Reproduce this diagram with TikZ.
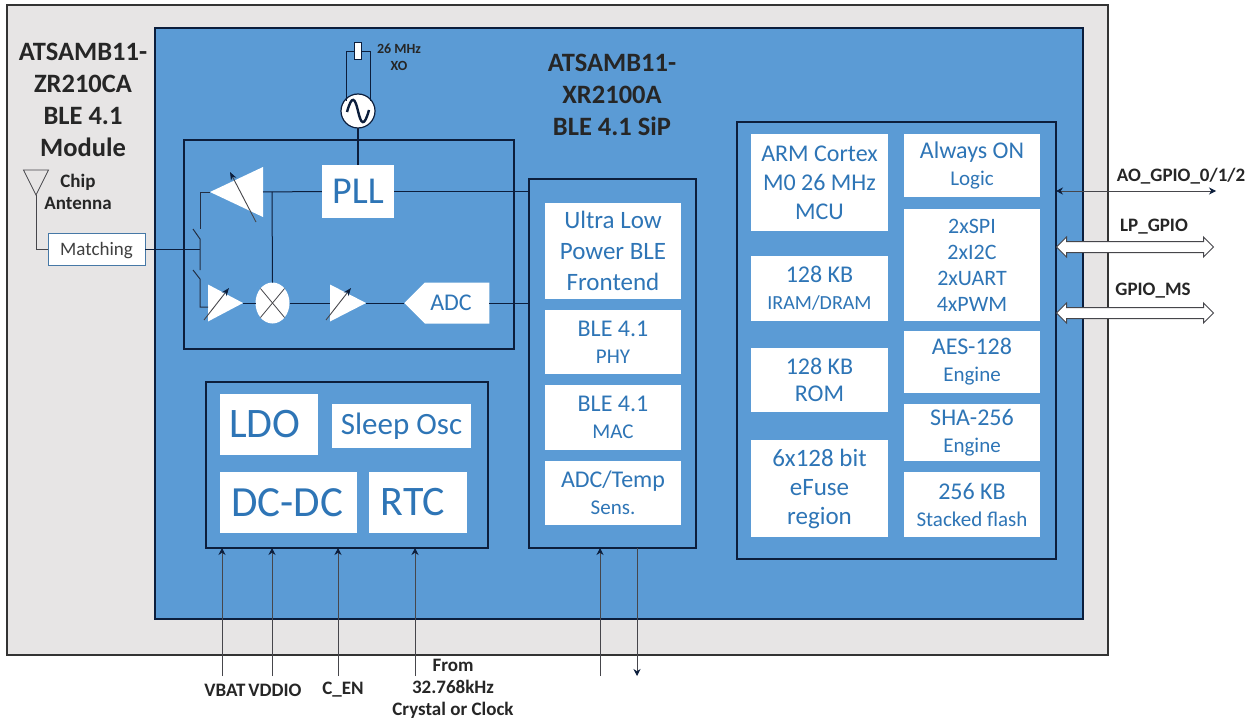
\documentclass[tikz,border=0pt]{standalone}
\usepackage{xcolor}
\usepackage{fontspec}
\setmainfont{Carlito}
\usetikzlibrary{arrows.meta, shapes.geometric, shapes.symbols, shapes.arrows}
\definecolor{samgray}{RGB}{231, 229, 229}
\definecolor{samblue}{RGB}{91, 155, 213}
\definecolor{samtext}{RGB}{46, 117, 182}
\definecolor{samdark}{RGB}{12, 30, 60}
\definecolor{samline}{RGB}{70, 70, 75}
\newcommand{\subline}[1]{{\fontsize{21}{27}\selectfont #1}}
\tikzset{
  panel/.style={draw=samdark, line width=1.4pt, fill=samblue, inner sep=0pt, outer sep=0pt},
  wbox/.style={fill=white, inner sep=0pt, align=center, text=samtext, font=\fontsize{24}{27}\selectfont},
  head/.style={align=center, inner sep=0pt, text=black!85, font=\fontsize{26.5}{32}\selectfont\bfseries},
  pinlabel/.style={align=center, inner sep=0pt, text=black!85, font=\fontsize{19}{22}\selectfont\bfseries},
  wire/.style={draw=samdark, line width=1pt},
  sigarrow/.style={draw=samline, line width=0.8pt, -{Stealth[length=7pt, width=7pt, color=samdark]}},
  amp/.style={isosceles triangle, isosceles triangle stretches=true, fill=white, inner sep=0pt, outer sep=0pt},
  tune/.style={draw=samline, line width=0.9pt, -{Stealth[length=8pt, width=6pt, color=samdark]}},
  busarrow/.style={double arrow, draw=samline, fill=white, line width=1pt, inner sep=5pt,
    minimum width=19pt, double arrow head extend=4.5pt, minimum height=157pt}
}
\begin{document}
\begin{tikzpicture}[x=1pt, y=-1pt]
  \useasboundingbox (0,0) rectangle (1257,722);

  % Module and SiP
  \node[panel, fill=samgray, draw=black!80, minimum width=1101pt, minimum height=650pt] (module) at (557.5,330) {};
  \node[panel, minimum width=928pt, minimum height=591pt] (sip) at (619,323.5) {};

  % Titles
  \node[head] (modtitle) at (83,100) {ATSAMB11-\\ZR210CA\\BLE 4.1\\Module};
  \node[head] (siptitle) at (612,94.5) {ATSAMB11-\\XR2100A\\BLE 4.1 SiP};

  % Antenna and matching
  \node[isosceles triangle, isosceles triangle stretches=true, shape border rotate=270, draw=samline, line width=0.8pt,
        fill=samgray, minimum width=25pt, minimum height=25pt, inner sep=0pt, outer sep=0pt, anchor=apex] (antenna) at (36,195) {};
  \node[pinlabel] (antlabel) at (78,192) {Chip\\Antenna};
  \node[fill=white, draw=samtext!70!gray, line width=0.8pt, inner sep=0pt, minimum width=97pt, minimum height=32pt,
        text=black!75, text height=13pt, text depth=0pt, font=\fontsize{19}{20}\selectfont] (matching) at (96.5,249) {Matching};
  \draw[draw=samline, line width=0.8pt] (antenna.apex) |- (matching.west);

  % Radio
  \node[panel, minimum width=330pt, minimum height=209pt] (radio) at (349,244.5) {};
  \node[wbox, minimum width=72pt, minimum height=53pt, font=\fontsize{38}{40}\selectfont] (pll) at (358,191.5) {PLL};
  \node[draw=samdark, line width=1.2pt, fill=white, circle, minimum size=34pt, inner sep=0pt, outer sep=0pt] (osc) at (358,111) {};
  \draw[samdark, line width=2.4pt] (347,112) .. controls (352,94) and (355,98) .. (358,111) .. controls (361,124) and (364,128) .. (369,110);
  \node[draw=samdark, line width=1.4pt, fill=white, inner sep=0pt, outer sep=0pt, minimum width=7pt, minimum height=17pt] (xtal) at (358,51) {};
  \node[pinlabel, font=\fontsize{14}{17}\selectfont\bfseries] (xtallabel) at (399,57.5) {26 MHz\\XO};
  \draw[wire, line width=0.8pt] (xtal.west) -- (346,51) -- (346,101);
  \draw[wire, line width=0.8pt] (xtal.east) -- (370,51) -- (370,101);
  \draw[wire, line width=1.4pt] (osc) -- (pll);

  \node[amp, shape border rotate=180, minimum width=50pt, minimum height=53pt, anchor=apex] (pa) at (210,192) {};
  \node[amp, minimum width=37pt, minimum height=35pt, anchor=apex] (lna) at (243,303) {};
  \node[amp, minimum width=37pt, minimum height=36pt, anchor=apex] (vga) at (366,303) {};
  \node[ellipse, fill=white, minimum width=34pt, minimum height=41pt, inner sep=0pt, outer sep=0pt] (mixer) at (272.5,303) {};
  \node[signal, signal to=west, signal pointer angle=90, fill=white, inner sep=0pt, outer sep=0pt,
        minimum width=85pt, minimum height=41pt, text=samtext, font=\fontsize{24}{24}\selectfont] (adc) at (457,303) {ADC\hspace{12pt}\null};

  \draw[samline, line width=0.8pt] (mixer.north west) -- (mixer.south east);
  \draw[samline, line width=0.8pt] (mixer.north east) -- (mixer.south west);
  \draw[tune] (256,222) -- (230,172);
  \draw[tune] (204,320) -- (229,288);
  \draw[tune] (326,320) -- (351,288);

  \coordinate (rfjoint) at (200,249);
  \draw[wire] (matching.east) -- (rfjoint);
  \draw[wire, draw=samdark!60!samline] (pa.apex) -- (200,192) -- (200,229);
  \draw[wire, draw=samdark!60!samline] (193,229) -- (200,239) -- (rfjoint) -- (200,270);
  \draw[wire, draw=samdark!60!samline] (193,270) -- (200,279) -- (200,307) -- (208,307);
  \draw[wire] (pll.west) -- (263,192);
  \draw[wire] (272,192) -- (mixer.north);
  \draw[wire] (lna.apex) -- (mixer.west);
  \draw[wire] (mixer.east) -- (330,303);
  \draw[wire] (vga.apex) -- (adc.west);

  % Power
  \node[panel, minimum width=282pt, minimum height=166pt] (power) at (347,465) {};
  \node[wbox, minimum width=98pt, minimum height=61pt, font=\fontsize{42}{40}\selectfont] (ldo) at (269,424.5) {LDO\hspace{8pt}};
  \node[wbox, minimum width=139pt, minimum height=44pt, font=\fontsize{31}{30}\selectfont] (sleeposc) at (401.5,426) {Sleep Osc};
  \node[wbox, minimum width=137pt, minimum height=61pt, font=\fontsize{43}{40}\selectfont] (dcdc) at (288.5,502.5) {DC-DC\hspace{3pt}};
  \node[wbox, minimum width=98pt, minimum height=61pt, font=\fontsize{42}{40}\selectfont] (rtc) at (418,502.5) {RTC\hspace{10pt}};

  % BLE
  \node[panel, minimum width=167pt, minimum height=369pt] (ble) at (612.5,363.5) {};
  \node[wbox, minimum width=136pt, minimum height=96pt, font=\fontsize{25}{31}\selectfont] (frontend) at (613,251) {Ultra Low\\Power BLE\\Frontend};
  \node[wbox, minimum width=136pt, minimum height=64pt] (phy) at (613,342) {BLE 4.1\\\subline{PHY}};
  \node[wbox, minimum width=136pt, minimum height=65pt] (mac) at (613,417.5) {BLE 4.1\\\subline{MAC}};
  \node[wbox, minimum width=136pt, minimum height=64pt] (adctemp) at (613,493) {ADC/Temp\\\subline{Sens.}};
  \draw[wire] (pll.east) -- (pll.east -| ble.west);
  \draw[wire] (adc.east) -- (adc.east -| ble.west);

  % MCU
  \node[panel, minimum width=319pt, minimum height=437pt] (mcu) at (896.5,340.5) {};
  \node[wbox, minimum width=137pt, minimum height=97pt, font=\fontsize{24}{29}\selectfont] (arm) at (819.5,182.5) {ARM Cortex\\M0 26 MHz\\MCU};
  \node[wbox, minimum width=137pt, minimum height=65pt] (iram) at (819.5,288.5) {128 KB\\{\fontsize{20}{27}\selectfont IRAM/DRAM}};
  \node[wbox, minimum width=137pt, minimum height=64pt] (rom) at (819.5,380) {128 KB\\ROM};
  \node[wbox, minimum width=137pt, minimum height=97pt, font=\fontsize{25}{29}\selectfont] (efuse) at (819.5,488.5) {6x128 bit\\eFuse\\region};
  \node[wbox, minimum width=136pt, minimum height=63pt] (always) at (972,165.5) {Always ON\\\subline{Logic}};
  \node[wbox, minimum width=136pt, minimum height=112pt, font=\fontsize{22}{26}\selectfont] (periph) at (972,265) {2xSPI\\2xI2C\\2xUART\\4xPWM};
  \node[wbox, minimum width=136pt, minimum height=62pt] (aes) at (972,362) {AES-128\\\subline{Engine}};
  \node[wbox, minimum width=136pt, minimum height=57pt] (sha) at (972,432.5) {SHA-256\\\subline{Engine}};
  \node[wbox, minimum width=136pt, minimum height=65pt] (flash) at (972,504.5) {256 KB\\\subline{Stacked flash}};

  % Pins, right
  \coordinate (aoend) at (1216,191);
  \draw[draw=samline, line width=0.8pt, {Stealth[length=7pt, width=7pt, color=samdark]}-{Stealth[length=7pt, width=7pt, color=samdark]}] (aoend -| mcu.east) -- (aoend);
  \node[pinlabel] (aolabel) at (1181,176) {AO\_GPIO\_0/1/2};
  \node[busarrow] (lpbus) at (1135,247) {};
  \node[pinlabel] (lplabel) at (1154,227) {LP\_GPIO};
  \node[busarrow] (msbus) at (1135,313) {};
  \node[pinlabel] (mslabel) at (1153,291) {GPIO\_MS};

  % Pins, bottom
  \coordinate (vbatpin) at (222,676);
  \coordinate (vddiopin) at (272,676);
  \coordinate (cenpin) at (338,676);
  \coordinate (clkpin) at (415,676);
  \coordinate (bleinpin) at (600,676);
  \coordinate (bleoutpin) at (637,676);
  \draw[sigarrow] (vbatpin) -- (vbatpin |- power.south);
  \draw[sigarrow] (vddiopin) -- (vddiopin |- power.south);
  \draw[sigarrow] (cenpin) -- (cenpin |- power.south);
  \draw[sigarrow] (clkpin) -- (clkpin |- power.south);
  \draw[sigarrow] (bleinpin) -- (bleinpin |- ble.south);
  \draw[sigarrow] (bleoutpin |- ble.south) -- (bleoutpin);
  \node[pinlabel] (vbat) at (225,690) {VBAT};
  \node[pinlabel] (vddio) at (275,690) {VDDIO};
  \node[pinlabel] (cen) at (343,690) {C\_EN};
  \node[pinlabel] (clk) at (453,689) {From\\32.768kHz\\Crystal or Clock};
\end{tikzpicture}
\end{document}
